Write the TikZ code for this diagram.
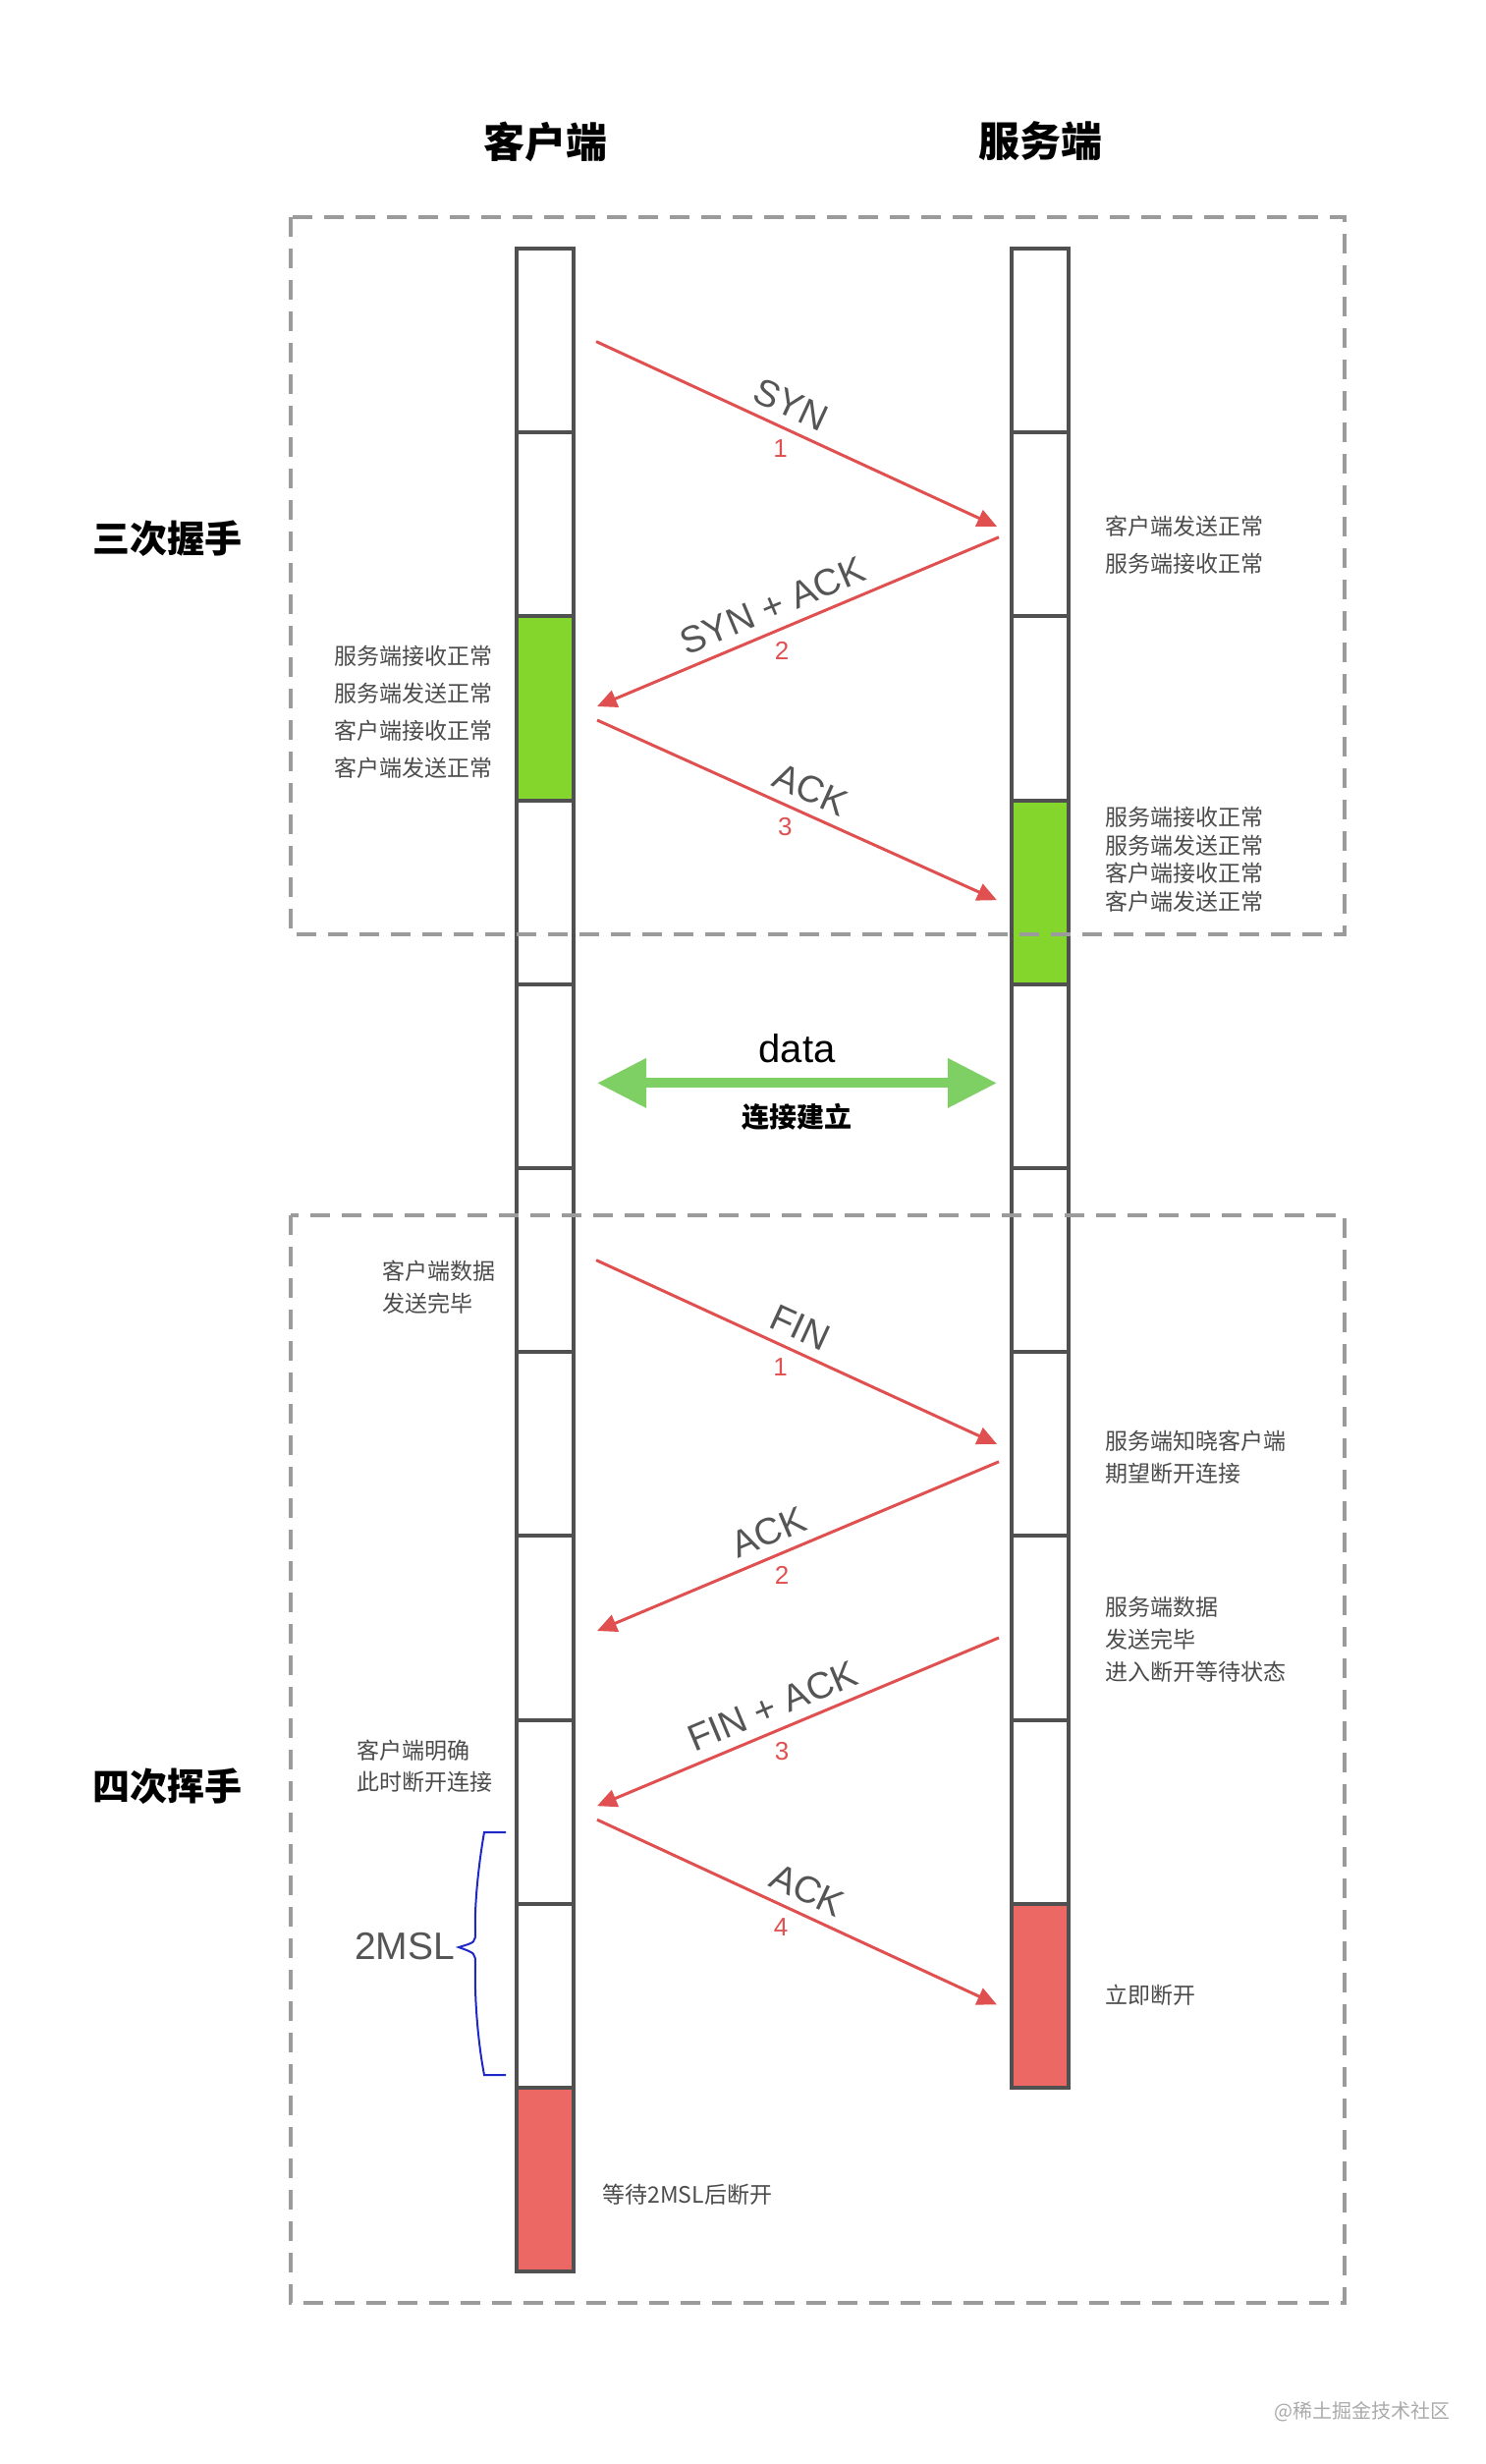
\documentclass[tikz,border=0pt]{standalone}
\usepackage{fontspec}
\setmainfont{Noto Sans CJK SC}
\newfontfamily\latinfont{Liberation Sans}
\usepackage{tikz}
\usetikzlibrary{arrows.meta,calc}
\definecolor{bargray}{RGB}{80,80,80}
\definecolor{boxgray}{RGB}{155,155,155}
\definecolor{msgred}{RGB}{224,80,80}
\definecolor{okgreen}{RGB}{133,214,44}
\definecolor{endred}{RGB}{236,104,100}
\definecolor{datagreen}{RGB}{126,208,100}
\definecolor{notegray}{RGB}{75,75,75}
\definecolor{lblgray}{RGB}{85,85,85}
\definecolor{bracebl}{RGB}{30,40,200}
\definecolor{markgray}{RGB}{170,170,170}

\begin{document}
\begin{tikzpicture}[
        x=0.5pt, y=-0.5pt,
        seg/.style={draw=bargray, line width=2pt, minimum width=29pt, minimum height=93.6pt, inner sep=0pt, outer sep=0pt},
        phase/.style={draw=boxgray, line width=2pt, dash pattern=on 10pt off 6pt},
        msg/.style={-{Triangle[length=10pt,width=9pt]}, line width=1.5pt, draw=msgred},
        datarr/.style={{Triangle[length=25pt,width=24pt]}-{Triangle[length=25pt,width=24pt]}, line width=5pt, draw=datagreen},
        lbl/.style={font=\latinfont\fontsize{19}{19}\selectfont, text=lblgray, sloped, above, inner sep=5pt},
        num/.style={font=\latinfont\fontsize{13}{13}\selectfont, text=msgred, below, inner sep=6pt},
        note/.style={font=\fontsize{11.5}{19}\selectfont, text=notegray, inner sep=0pt, align=left, anchor=west},
        side/.style={font=\bfseries\fontsize{21}{21}\selectfont},
        stage/.style={font=\bfseries\fontsize{19}{19}\selectfont}
      ]
        \useasboundingbox (0,0) rectangle (1512,2508);
        % the two timelines
        \foreach \k/\f in {1/white,2/white,3/okgreen,4/white,5/white,6/white,7/white,8/white,9/white,10/white,11/endred}
          \node[seg, fill=\f] (c\k) at (555,{253+(\k-0.5)*187.2}) {};
        \foreach \k/\f in {1/white,2/white,3/white,4/okgreen,5/white,6/white,7/white,8/white,9/white,10/endred}
          \node[seg, fill=\f] (s\k) at (1059,{253+(\k-0.5)*187.2}) {};
        \draw[phase] (296,221) rectangle (1369,951);
        \draw[phase] (296,1237) rectangle (1369,2344);

        \node[side] (client) at (555,144) {客户端};
        \node[side] (server) at (1059,144) {服务端};
        \node[stage] (hand) at (170,548) {三次握手};
        \node[stage] (wave) at (170,1818) {四次挥手};

        % handshake
        \draw[msg] ($(c1.east)+(23,1)$) -- node[lbl, pos=0.46] {SYN} node[num, pos=0.46] {1} ($(s2.west)+(-15,2)$);
        \draw[msg] ($(s2.west)+(-13,13)$) -- node[lbl, pos=0.54] {SYN + ACK} node[num, pos=0.54] {2} ($(c3.east)+(24,-2)$);
        \draw[msg] ($(c3.east)+(24,12)$) -- node[lbl, pos=0.51] {ACK} node[num, pos=0.47] {3} ($(s4.west)+(-15,8)$);

        \draw[datarr] ($(c5.east)+(24,7)$) -- node[above, inner sep=8pt, font=\latinfont\fontsize{20}{20}\selectfont] {data}
          node[below, inner sep=8pt, font=\bfseries\fontsize{14}{14}\selectfont] {连接建立} ($(s5.west)+(-15,7)$);

        % wave
        \draw[msg] ($(c6.east)+(23,0)$) -- node[lbl, pos=0.485] {FIN} node[num, pos=0.46] {1} ($(s7.west)+(-15,0)$);
        \draw[msg] ($(s7.west)+(-13,18)$) -- node[lbl, pos=0.55] {ACK} node[num, pos=0.54] {2} ($(c8.east)+(24,3)$);
        \draw[msg] ($(s8.west)+(-13,10)$) -- node[lbl, pos=0.54] {FIN + ACK} node[num, pos=0.54] {3} ($(c9.east)+(24,-6)$);
        \draw[msg] ($(c9.east)+(24,8)$) -- node[lbl, pos=0.5] {ACK} node[num, pos=0.46] {4} ($(s10.west)+(-15,9)$);

        \node[note] (n1) at (1125,555) {客户端发送正常\\服务端接收正常};
        \node[note, anchor=east, align=right] (n2) at (502,725) {服务端接收正常\\服务端发送正常\\客户端接收正常\\客户端发送正常};
        \node[note, font=\fontsize{11.5}{14.25}\selectfont] (n3) at (1125,875) {服务端接收正常\\服务端发送正常\\客户端接收正常\\客户端发送正常};
        \node[note, font=\fontsize{11.5}{16.5}\selectfont] (n4) at (389,1310) {客户端数据\\发送完毕};
        \node[note, font=\fontsize{11.5}{16.5}\selectfont] (n5) at (1125,1483) {服务端知晓客户端\\期望断开连接};
        \node[note, font=\fontsize{11.5}{16.5}\selectfont] (n6) at (1125,1669) {服务端数据\\发送完毕\\进入断开等待状态};
        \node[note, font=\fontsize{11.5}{16}\selectfont] (n7) at (363,1798) {客户端明确\\此时断开连接};
        \node[note] (n8) at (1125,2031) {立即断开};
        \node[note] (n9) at (613,2234) {等待2MSL后断开};

        % 2MSL brace
        \draw[bracebl, line width=1pt] (515,1865) -- (493,1865) .. controls (486,1905) and (483,1945) .. (484,1966)
          .. controls (484,1977) .. (467,1982) .. controls (484,1988) .. (484,2000)
          .. controls (483,2030) and (486,2075) .. (493,2112) -- (515,2112);
        \node[font=\latinfont\fontsize{19.5}{19.5}\selectfont, text=lblgray] (msl) at (412,1981) {2MSL};

        \node[font=\fontsize{10}{10}\selectfont, text=markgray] (mark) at (1387,2455) {@稀土掘金技术社区};
      \end{tikzpicture}
\end{document}
